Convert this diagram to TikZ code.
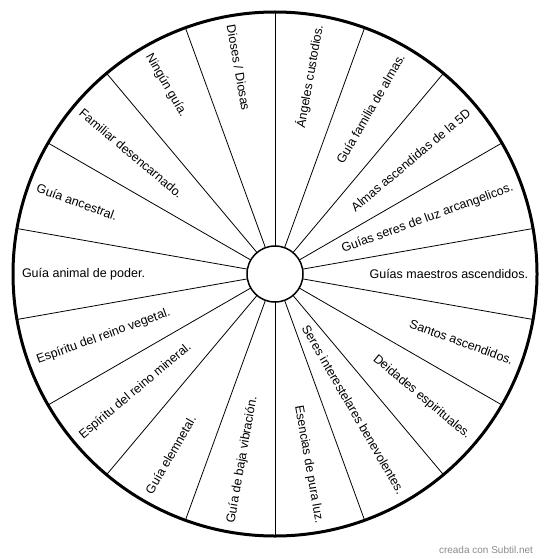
\documentclass[tikz,border=0pt]{standalone}
\usepackage{fontspec}
\setmainfont{Liberation Sans}
\definecolor{credgray}{HTML}{8A8A8A}
\tikzset{
  spoke/.style={line width=0.8pt, draw=black},
  lab/.style={inner sep=0pt, outer sep=0pt, font=\fontsize{12.5}{14}\selectfont},
  ring/.style={circle, draw=black, inner sep=0pt, outer sep=0pt}
}
\begin{document}
\begin{tikzpicture}[x=1pt,y=1pt]
\useasboundingbox (0,0) rectangle (550,-559);
\coordinate (C) at (275,-274);
\node[ring, line width=3pt, minimum size=524pt] (outer) at (C) {};
\node[ring, fill=white, line width=1.5pt, minimum size=56pt] (inner) at (C) {};
\foreach \a in {10,30,...,350} \draw[spoke] (inner.\a) -- (outer.\a);
\foreach \a/\t [count=\i] in {80/{Ángeles custodios.},60/{Guía familia de almas.},40/{Almas ascendidas de la 5D},20/{Guías seres de luz arcangelicos.},0/{Guías maestros ascendidos.},-20/{Santos ascendidos.},-40/{Deidades espirituales.},-60/{Seres interestelares benevolentes.},-80/{Esencias de pura luz.}}
  \path (C) ++(\a:253) node[lab, anchor=east, rotate=\a, name=r\i] {\t};
\foreach \a/\t [count=\i] in {100/{Dioses / Diosas},120/{Ningún guía.},140/{Familiar desencarnado.},160/{Guía ancestral.},180/{Guía animal de poder.},200/{Espíritu del reino vegetal.},220/{Espíritu del reino mineral.},240/{Guía elemnetal.},260/{Guía de baja vibración.}}
  \path (C) ++(\a:253) node[lab, anchor=west, rotate=\a-180, name=l\i] {\t};
\node[text=credgray, font=\fontsize{10}{12}\selectfont, inner sep=0pt] (credit) at (486,-550) {creada con Subtil.net};
\end{tikzpicture}
\end{document}
